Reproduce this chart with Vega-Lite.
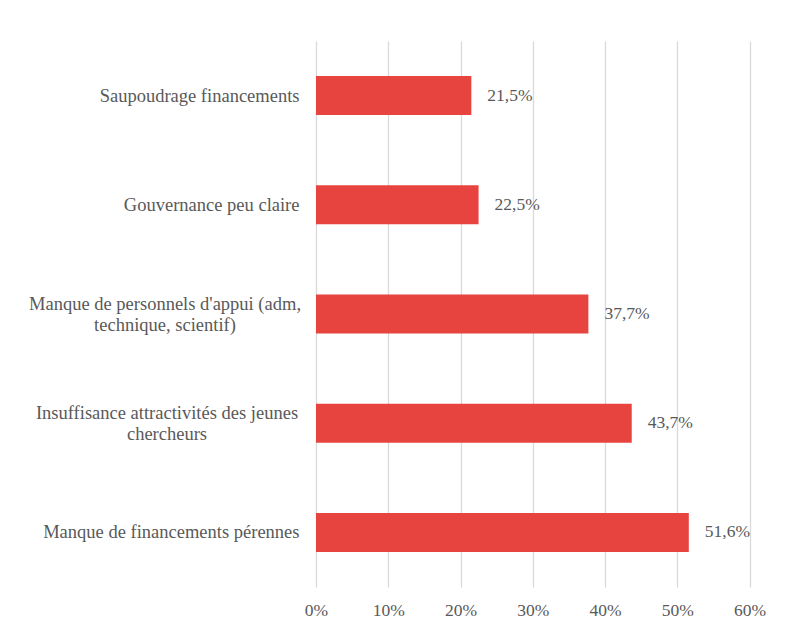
{
  "$schema": "https://vega.github.io/schema/vega-lite/v6.json",
  "autosize": "none",
  "width": 433.5,
  "height": 546,
  "padding": {"left": 316, "top": 41, "right": 35.5, "bottom": 43},
  "background": "white",
  "config": {
    "font": "Times New Roman, Liberation Serif, serif",
    "axis": {"labelFont": "Times New Roman, Liberation Serif, serif"},
    "text": {"font": "Times New Roman, Liberation Serif, serif"},
    "view": {"stroke": null},
    "locale": {
      "number": {"decimal": ",", "thousands": " ", "grouping": [3], "currency": ["", " €"]}
    }
  },
  "data": {
    "values": [
      {"cause": "Saupoudrage financements", "share": 0.215},
      {"cause": "Gouvernance peu claire", "share": 0.225},
      {"cause": "Manque de personnels d'appui (adm,|technique, scientif)", "share": 0.377},
      {"cause": "Insuffisance attractivités des jeunes|chercheurs", "share": 0.437},
      {"cause": "Manque de financements pérennes", "share": 0.516}
    ]
  },
  "encoding": {
    "y": {
      "field": "cause",
      "type": "nominal",
      "sort": null,
      "title": null,
      "scale": {"paddingInner": 0.643, "paddingOuter": 0.3215},
      "axis": {
        "domain": false,
        "ticks": false,
        "labelFontSize": 18.5,
        "labelColor": "#595959",
        "labelLimit": 400,
        "labelLineHeight": 21,
        "labelExpr": "split(datum.label, '|')",
        "labelAlign": {"condition": {"test": "indexof(datum.value, '|') >= 0", "value": "center"}, "value": "right"},
        "labelOffset": {"condition": {"test": "indexof(datum.value, '|') >= 0", "value": -10.5}, "value": 0},
        "labelPadding": {"expr": "indexof(datum.value, 'personnels') >= 0 ? 151.5 : indexof(datum.value, 'Insuffisance') >= 0 ? 149.5 : 17"}
      }
    },
    "x": {
      "field": "share",
      "type": "quantitative",
      "title": null,
      "scale": {"domain": [0, 0.6], "nice": false},
      "axis": {
        "format": ".0%",
        "values": [0, 0.1, 0.2, 0.3, 0.4, 0.5, 0.6],
        "domain": false,
        "ticks": false,
        "grid": true,
        "gridColor": "#D9D9D9",
        "gridWidth": 1.3,
        "labelPadding": 14,
        "labelFontSize": 17.5,
        "labelColor": "#595959",
        "labelFlush": false
      }
    }
  },
  "layer": [
    {"mark": {"type": "bar", "color": "#E8443F"}},
    {
      "mark": {"type": "text", "align": "left", "baseline": "middle", "dx": 16, "fontSize": 17.5, "color": "#595959"},
      "encoding": {"text": {"field": "share", "type": "quantitative", "format": ".1%"}}
    }
  ]
}
